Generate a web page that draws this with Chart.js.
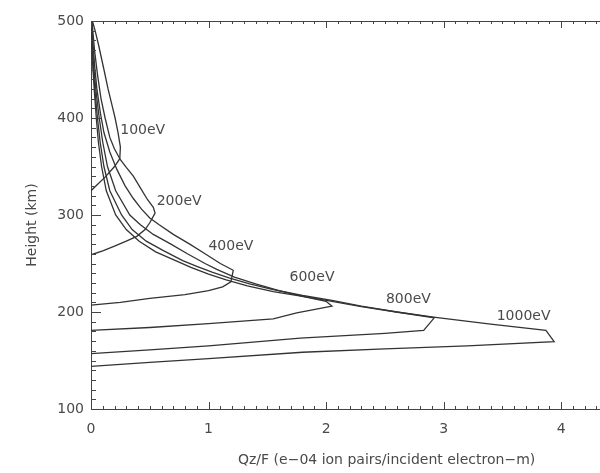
<!DOCTYPE html>
<html><head><meta charset="utf-8">
<script src="https://cdn.jsdelivr.net/npm/chart.js@4.4.0/dist/chart.umd.min.js"></script>
<style>html,body{margin:0;padding:0;background:#fff}</style>
</head><body>
<canvas id="c" width="600" height="473" style="display:block;width:600px;height:473px"></canvas>
<script>
// ---- data (Qz/F in 1e-4 ion pairs / incident electron-m, height in km) ----
const energyLabels = ['100eV', '200eV', '400eV', '600eV', '800eV', '1000eV'];

const q100  = [0, 0.05, 0.12, 0.20, 0.245, 0.25, 0.23, 0.205, 0.175, 0.145, 0.11, 0.065, 0.035, 0.012];
const h100  = [325, 331, 339, 350, 358, 370, 385, 400, 415, 430, 450, 475, 490, 500];

const q200  = [0, 0.1, 0.2, 0.3, 0.39, 0.46, 0.5, 0.545, 0.53, 0.48, 0.42, 0.36, 0.30, 0.25, 0.20, 0.16, 0.12, 0.085, 0.055, 0.03, 0.008];
const h200  = [259, 263, 268, 273, 278, 285, 292, 302, 308, 316, 328, 340, 349, 357, 368, 380, 400, 420, 445, 470, 500];

const q400  = [0, 0.25, 0.5, 0.8, 1.0, 1.12, 1.19, 1.21, 1.10, 0.97, 0.84, 0.70, 0.58, 0.50, 0.43, 0.36, 0.29, 0.22, 0.16, 0.11, 0.08, 0.05, 0.03, 0.015, 0.005];
const h400  = [207, 210, 214, 218, 222, 226, 231, 243, 250, 260, 270, 280, 290, 297, 306, 317, 330, 347, 365, 385, 405, 430, 455, 480, 500];

const q600  = [0, 0.5, 1.0, 1.55, 1.75, 2.05, 2.0, 1.80, 1.60, 1.40, 1.22, 1.07, 0.97, 0.82, 0.68, 0.53, 0.42, 0.33, 0.21, 0.14, 0.10, 0.07, 0.045, 0.025, 0.012, 0.004];
const h600  = [181, 184, 188, 193, 199, 206, 211, 216, 222, 229, 236, 244, 250, 260, 270, 280, 290, 300, 325, 350, 375, 400, 425, 450, 475, 500];

const q800  = [0, 0.5, 1.0, 1.78, 2.5, 2.83, 2.92, 2.6, 2.3, 2.05, 1.80, 1.55, 1.35, 1.18, 1.03, 0.90, 0.78, 0.62, 0.47, 0.35, 0.26, 0.16, 0.11, 0.078, 0.055, 0.036, 0.02, 0.009, 0.003];
const h800  = [157, 161, 165, 173, 178, 181, 194, 200, 206, 212, 217, 223, 229, 235, 241, 247, 253, 263, 273, 285, 300, 325, 350, 375, 400, 425, 450, 475, 500];

const q1000 = [0, 0.5, 1.0, 1.8, 2.5, 3.2, 3.94, 3.87, 3.4, 2.93, 2.6, 2.3, 2.05, 1.80, 1.55, 1.33, 1.15, 1.0, 0.85, 0.72, 0.55, 0.41, 0.30, 0.21, 0.13, 0.09, 0.063, 0.045, 0.03, 0.017, 0.007, 0.002];
const h1000 = [144, 148, 152, 158.5, 162, 165, 169.5, 181, 187.5, 194.5, 200, 205.5, 211, 216, 221, 227, 233, 239, 246, 253, 262, 273, 285, 300, 325, 350, 375, 400, 425, 450, 475, 500];

// curve label anchor points (data units)
const labelQ = [0.44, 0.75, 1.19, 1.88, 2.70, 3.68];
const labelH = [387, 314, 268, 236, 213, 196];

const xTicks = [0, 1, 2, 3, 4];
const yTicks = [100, 200, 300, 400, 500];
const xTitle = 'Qz/F (e\u221204 ion pairs/incident electron\u2212m)';
const yTitle = 'Height (km)';

// ---- build ----
const series = [[q100, h100], [q200, h200], [q400, h400], [q600, h600], [q800, h800], [q1000, h1000]];
const LINE = '#333333';
const TEXT = '#4a4a4a';
const FONT = 'DejaVu Sans';

const datasets = series.map((s, i) => ({
  label: energyLabels[i],
  data: s[0].map((q, k) => ({ x: q, y: s[1][k] })),
  showLine: true,
  borderColor: LINE,
  borderWidth: 1.3,
  pointRadius: 0,
  tension: 0,
  fill: false
}));

const decor = {
  id: 'decor',
  afterDraw(chart) {
    const { ctx, chartArea: a, scales: { x, y } } = chart;
    ctx.save();
    ctx.strokeStyle = '#444';
    ctx.lineWidth = 1;
    // top border
    ctx.beginPath();
    ctx.moveTo(a.left, a.top + 0.5);
    ctx.lineTo(a.right, a.top + 0.5);
    ctx.stroke();
    // x ticks (bottom & top), inward
    ctx.beginPath();
    for (let i = 0; i <= 43; i++) {
      const v = i / 10;
      const px = Math.round(x.getPixelForValue(v)) + 0.5;
      const len = (i % 10 === 0) ? 7 : 3;
      ctx.moveTo(px, a.bottom); ctx.lineTo(px, a.bottom - len);
      ctx.moveTo(px, a.top); ctx.lineTo(px, a.top + len);
    }
    // y ticks (left), inward
    for (let v = 100; v <= 500; v += 10) {
      const py = Math.round(y.getPixelForValue(v)) + 0.5;
      const len = (v % 100 === 0) ? 10 : 5;
      ctx.moveTo(a.left, py); ctx.lineTo(a.left + len, py);
    }
    ctx.stroke();
    // curve labels
    ctx.fillStyle = TEXT;
    ctx.font = '14px "' + FONT + '"';
    ctx.textAlign = 'center';
    ctx.textBaseline = 'middle';
    energyLabels.forEach((t, i) => {
      ctx.fillText(t, x.getPixelForValue(labelQ[i]), y.getPixelForValue(labelH[i]));
    });
    // axis titles
    ctx.textAlign = 'left';
    ctx.fillText(xTitle, 238, 460);
    ctx.translate(32, 225);
    ctx.rotate(-Math.PI / 2);
    ctx.textAlign = 'center';
    ctx.fillText(yTitle, 0, 0);
    ctx.restore();
  }
};

new Chart(document.getElementById('c'), {
  type: 'scatter',
  data: { datasets },
  options: {
    responsive: false,
    animation: false,
    layout: { padding: { top: 21, right: 0, left: 0, bottom: 0 } },
    plugins: { legend: { display: false }, tooltip: { enabled: false } },
    scales: {
      x: {
        type: 'linear', min: 0, max: 4.33,
        afterBuildTicks: s => { s.ticks = xTicks.map(v => ({ value: v })); },
        afterFit: s => { s.height = 64; },
        grid: { display: false, drawTicks: false },
        border: { display: true, color: '#444', width: 1 },
        ticks: { color: TEXT, font: { family: FONT, size: 14 }, padding: 12, maxRotation: 0 }
      },
      y: {
        type: 'linear', min: 100, max: 500,
        afterBuildTicks: s => { s.ticks = yTicks.map(v => ({ value: v })); },
        afterFit: s => { s.width = 91; },
        grid: { display: false, drawTicks: false },
        border: { display: true, color: '#444', width: 1 },
        ticks: { color: TEXT, font: { family: FONT, size: 14 }, padding: 7 }
      }
    }
  },
  plugins: [decor]
});
</script>
</body></html>
